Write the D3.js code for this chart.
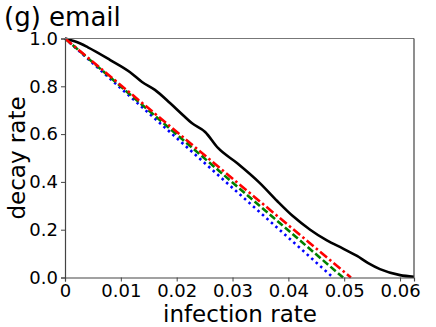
<html>
<script src='https://d3js.org/d3.v7.min.js'></script>
<style>
body {margin: 0; background: white;}
text {font-family: 'DejaVu Sans', sans-serif; fill: black;}
</style>
<body>
<svg width=436 height=327></svg>
<script>
// black curve
var blackX = [0, 0.0021, 0.0041, 0.0081, 0.0116, 0.0138, 0.0161, 0.0188, 0.0211, 0.0227, 0.0251, 0.0274, 0.0308, 0.0349, 0.038, 0.0408, 0.0439, 0.0469, 0.0498, 0.0523, 0.0543, 0.0564, 0.06, 0.0625];
var blackY = [1, 0.985, 0.963, 0.91, 0.86, 0.818, 0.785, 0.73, 0.68, 0.646, 0.609, 0.542, 0.479, 0.395, 0.32, 0.257, 0.2, 0.155, 0.121, 0.09, 0.06, 0.035, 0.01, 0.003];
// straight lines from (0,1) to their x-intercepts
var blueX = [0, 0.048];
var blueY = [1, 0];
var greenX = [0, 0.0498];
var greenY = [1, 0];
var redX = [0, 0.0512];
var redY = [1, 0];

var xTicks = [0, 0.01, 0.02, 0.03, 0.04, 0.05, 0.06];
var xTickLabels = ["0", "0.01", "0.02", "0.03", "0.04", "0.05", "0.06"];
var yTicks = [0, 0.2, 0.4, 0.6, 0.8, 1.0];

var mLeft = 65, mRight = 414, mTop = 38.5, mBottom = 277.5;
var svg = d3.select("svg");

var x = d3.scaleLinear().domain([0, 0.0625]).range([mLeft, mRight]);
var y = d3.scaleLinear().domain([0, 1]).range([mBottom, mTop]);

function pts(xs, ys) { return xs.map(function(v, i) { return [v, ys[i]]; }); }
var line = d3.line().x(function(d) { return x(d[0]); }).y(function(d) { return y(d[1]); }).curve(d3.curveMonotoneX);

var series = [
  {d: pts(blackX, blackY), c: "black", dash: null},
  {d: pts(blueX, blueY), c: "#0000ff", dash: "2.5,3.5"},
  {d: pts(greenX, greenY), c: "#008000", dash: "7,3"},
  {d: pts(redX, redY), c: "#ff0000", dash: "9,3,2.5,3"}
];

svg.append("g").selectAll("path").data(series).enter().append("path")
  .attr("d", function(s) { return line(s.d); })
  .attr("fill", "none")
  .attr("stroke", function(s) { return s.c; })
  .attr("stroke-width", 2.6)
  .attr("stroke-dasharray", function(s) { return s.dash; });

var xAxis = svg.append("g").attr("transform", "translate(0," + mBottom + ")")
  .call(d3.axisBottom(x).tickValues(xTicks).tickFormat(function(d, i) { return xTickLabels[i]; }).tickSizeOuter(0).tickSize(4).tickPadding(3));
var yAxis = svg.append("g").attr("transform", "translate(" + mLeft + ",0)")
  .call(d3.axisLeft(y).tickValues(yTicks).tickFormat(d3.format(".1f")).tickSizeOuter(0).tickSize(4).tickPadding(3));
[xAxis, yAxis].forEach(function(a) {
  a.selectAll("text").style("font-size", "18px").attr("fill", "black");
  a.selectAll("line").attr("stroke", "#444");
  a.select(".domain").attr("stroke", "#444").attr("stroke-width", 1.2);
});

// top and right spines
svg.append("line").attr("x1", mLeft).attr("x2", mRight).attr("y1", mTop).attr("y2", mTop).attr("stroke", "#777").attr("stroke-width", 1.2);
svg.append("line").attr("x1", mRight).attr("x2", mRight).attr("y1", mTop).attr("y2", mBottom).attr("stroke", "#444").attr("stroke-width", 1.2);

svg.append("text").attr("x", 4).attr("y", 26).style("font-size", "26px").text("(g) email");
svg.append("text").attr("x", 240).attr("y", 322).attr("text-anchor", "middle").style("font-size", "23px").text("infection rate");
svg.append("text").attr("transform", "translate(25," + (mTop + mBottom) / 2 + ") rotate(-90)").attr("text-anchor", "middle").style("font-size", "23px").text("decay rate");
</script>
</body>
</html>
